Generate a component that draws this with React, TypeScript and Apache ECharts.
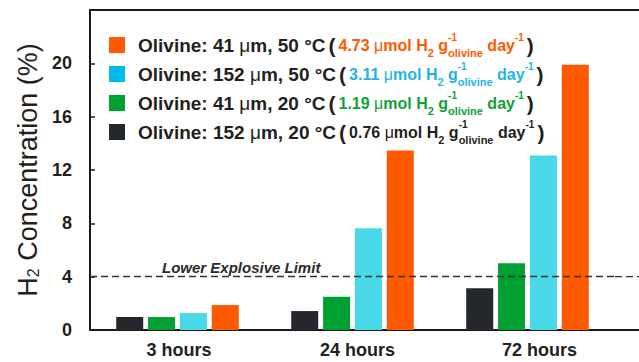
import React, { useEffect, useRef } from 'react';
import * as echarts from 'echarts';

const categories = ['3 hours', '24 hours', '72 hours'];
const seriesNames = [
  'Olivine: 152 μm, 20 °C',
  'Olivine: 41 μm, 20 °C',
  'Olivine: 152 μm, 50 °C',
  'Olivine: 41 μm, 50 °C',
];
const rates = ['0.76', '1.19', '3.11', '4.73'];
const olivine152at20 = [0.97, 1.42, 3.14];
const olivine41at20 = [0.97, 2.49, 5.01];
const olivine152at50 = [1.27, 7.63, 13.09];
const olivine41at50 = [1.87, 13.47, 19.9];
const seriesValues = [olivine152at20, olivine41at20, olivine152at50, olivine41at50];
const yMin = 0;
const yMax = 24;
const yInterval = 4;
const lowerExplosiveLimit = 4;

const barColors = ['#24272B', '#00A033', '#48D8E8', '#FF5A00'];
const swatchColors = ['#24272B', '#00A033', '#00BCEE', '#FF5A00'];
const textColors = ['#231F20', '#12A03A', '#1CB5E8', '#FF5A00'];
const legendOrder = [3, 2, 1, 0];
const axisColor = '#231815';
const darkText = '#231F20';
const FONT = 'Liberation Sans, Arial, Helvetica, sans-serif';

function buildRich() {
  const rich: Record<string, any> = {
    lead: { fontSize: 19, fontWeight: 'bold', color: darkText, lineHeight: 26, padding: [0, 0, 0, 8], fontFamily: FONT },
    m: { fontSize: 19, fontWeight: 'bold', color: darkText, lineHeight: 26, fontFamily: FONT },
    mu: { fontSize: 19, fontWeight: 'normal', color: darkText, lineHeight: 26, fontFamily: FONT },
    par: { fontSize: 21, fontWeight: 'bold', color: darkText, lineHeight: 26, fontFamily: FONT, padding: [0, 3, 0, 3] },
  };
  for (let i = 0; i < 4; i++) {
    const c = textColors[i];
    rich['v' + i] = { fontSize: 16, fontWeight: 'bold', color: c, lineHeight: 26, fontFamily: FONT };
    rich['u' + i] = { fontSize: 16, fontWeight: 'normal', color: c, lineHeight: 26, fontFamily: FONT };
    rich['b' + i] = { fontSize: 11, fontWeight: 'bold', color: c, lineHeight: 12, verticalAlign: 'bottom', fontFamily: FONT };
    rich['t' + i] = { fontSize: 10, fontWeight: 'bold', color: c, lineHeight: 11, verticalAlign: 'top', fontFamily: FONT };
    rich['tz' + i] = { fontSize: 10, fontWeight: 'bold', color: c, lineHeight: 11, verticalAlign: 'top', width: 0, fontFamily: FONT };
  }
  return rich;
}

function legendText(name: string) {
  const i = seriesNames.indexOf(name);
  const [before, after] = name.split('μ');
  return (
    `{lead|${before}}{mu|μ}{m|${after}}{par|(}` +
    `{v${i}|${rates[i]} }{u${i}|μ}{v${i}|mol H}{b${i}|2}{v${i}| g}{tz${i}|-1}{b${i}|olivine}` +
    `{v${i}| day}{t${i}|-1}{par|)}`
  );
}

const labelShift = [3, 10, 24];

export default function App() {
  const ref = useRef<HTMLDivElement>(null);
  useEffect(() => {
    if (!ref.current) return;
    const chart = echarts.init(ref.current, null, { renderer: 'svg' });
    const xRich: Record<string, any> = {};
    categories.forEach((_, i) => {
      xRich['c' + i] = {
        fontSize: 18, fontWeight: 'bold', color: darkText, fontFamily: FONT,
        padding: [0, 0, 0, labelShift[i]],
      };
    });
    chart.setOption({
      animation: false,
      backgroundColor: '#ffffff',
      textStyle: { fontFamily: FONT },
      grid: { left: 90, right: 24, top: 10, bottom: 32, containLabel: false },
      legend: {
        orient: 'vertical',
        left: 104,
        top: 27,
        itemWidth: 16,
        itemHeight: 16,
        itemGap: 3,
        icon: 'rect',
        selectedMode: false,
        data: legendOrder.map((i) => ({ name: seriesNames[i], itemStyle: { color: swatchColors[i] } })),
        formatter: legendText,
        textStyle: { rich: buildRich() },
      },
      xAxis: {
        type: 'category',
        data: categories,
        axisLine: { show: true, lineStyle: { color: axisColor, width: 2 } },
        axisTick: { show: false },
        axisLabel: {
          margin: 11,
          formatter: (v: string, i: number) => `{c${i}|${v}}`,
          rich: xRich,
        },
      },
      yAxis: {
        type: 'value',
        min: yMin,
        max: yMax,
        interval: yInterval,
        name: '{a|H}{s|2}{a| Concentration (%)}',
        nameLocation: 'middle',
        nameRotate: 90,
        nameGap: 47,
        nameTextStyle: {
          rich: {
            a: { fontSize: 27, color: darkText, fontFamily: FONT },
            s: { fontSize: 16, color: darkText, fontFamily: FONT, verticalAlign: 'bottom', lineHeight: 16 },
          },
        },
        axisLine: { show: true, lineStyle: { color: axisColor, width: 2 } },
        axisTick: { show: true, inside: true, length: 5, lineStyle: { color: axisColor, width: 1.5 } },
        axisLabel: { showMaxLabel: false, fontSize: 18, fontWeight: 'bold', color: darkText, margin: 18, fontFamily: FONT },
        splitLine: { show: false },
      },
      series: seriesValues.map((vals, i) => ({
        type: 'bar',
        name: seriesNames[i],
        data: vals,
        barWidth: 27,
        barGap: '18%',
        itemStyle: { color: barColors[i] },
        ...(i === 0
          ? {
              markLine: {
                silent: true,
                symbol: 'none',
                data: [{ yAxis: lowerExplosiveLimit }],
                lineStyle: { color: '#333333', width: 1.3, type: [7, 4] },
                label: {
                  show: true,
                  position: 'insideStartTop',
                  distance: [72, 2],
                  formatter: 'Lower Explosive Limit',
                  fontSize: 15,
                  fontStyle: 'italic',
                  fontWeight: 'bold',
                  color: '#2B2B2B',
                  fontFamily: FONT,
                },
              },
            }
          : {}),
      })),
    });
    // extend frame lines to the right edge of the picture, as in the reference
    const yTop = chart.convertToPixel({ yAxisIndex: 0 }, yMax) as number;
    const yZero = chart.convertToPixel({ yAxisIndex: 0 }, yMin) as number;
    const yLel = chart.convertToPixel({ yAxisIndex: 0 }, lowerExplosiveLimit) as number;
    const w = chart.getWidth();
    const xLeft = 90;
    const xRight = w - 24;
    chart.setOption({
      graphic: [
        { type: 'line', shape: { x1: xLeft - 1, y1: yTop, x2: w + 10, y2: yTop }, style: { stroke: axisColor, lineWidth: 2 }, silent: true },
        { type: 'line', shape: { x1: xRight, y1: yZero, x2: w + 10, y2: yZero }, style: { stroke: axisColor, lineWidth: 2 }, silent: true },
        { type: 'line', shape: { x1: xRight, y1: yLel, x2: w + 10, y2: yLel }, style: { stroke: '#333333', lineWidth: 1.3, lineDash: [7, 4] }, silent: true },
      ],
    });
    return () => chart.dispose();
  }, []);
  return <div ref={ref} style={{ width: 639, height: 362, position: 'fixed', left: 0, top: 0 }} />;
}
